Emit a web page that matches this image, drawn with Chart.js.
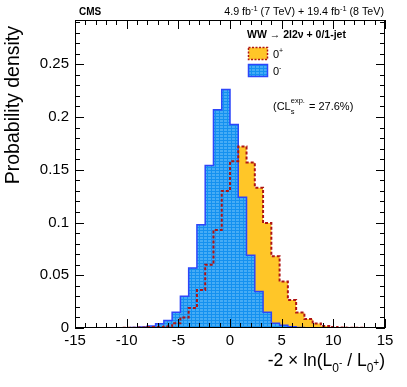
<!DOCTYPE html>
<html>
<head>
<meta charset="utf-8">
<script src="https://cdn.jsdelivr.net/npm/chart.js@4.4.1/dist/chart.umd.min.js"></script>
<style>
  html, body { margin: 0; padding: 0; background: #fff; }
  #c { display: block; }
</style>
</head>
<body>
<canvas id="c" width="407" height="387"></canvas>
<script>
// bin edges of -2 ln(L0-/L0+), bin width 0.8
const binEdges = [-16, -15.2, -14.4, -13.6, -12.8, -12, -11.2, -10.4, -9.6, -8.8,
                  -8, -7.2, -6.4, -5.6, -4.8, -4, -3.2, -2.4, -1.6, -0.8,
                  0, 0.8, 1.6, 2.4, 3.2, 4, 4.8, 5.6, 6.4, 7.2,
                  8, 8.8, 9.6, 10.4, 11.2, 12, 12.8, 13.6, 14.4, 15.2, 16];

// 0+ hypothesis (scalar), probability density per bin
const scalarDensity = [0, 0, 0, 0, 0, 0, 0, 0.0002, 0.0003, 0.0005,
                       0.001, 0.001, 0.0015, 0.0045, 0.010, 0.019, 0.036, 0.060, 0.093, 0.130,
                       0.158, 0.172, 0.157, 0.133, 0.0995, 0.068, 0.044, 0.0266, 0.0146, 0.0085,
                       0.0043, 0.002, 0.001, 0.0005, 0.0003, 0.0002, 0.0001, 0, 0, 0];

// 0- hypothesis (pseudoscalar)
const pseudoDensity = [0, 0, 0, 0, 0, 0, 0, 0.0002, 0.0004, 0.001,
                       0.002, 0.004, 0.007, 0.015, 0.030, 0.057, 0.098, 0.154, 0.207, 0.226,
                       0.193, 0.124, 0.069, 0.0345, 0.015, 0.0045, 0.0025, 0.0012, 0.0005, 0.0002,
                       0, 0, 0, 0, 0, 0, 0, 0, 0, 0];

const FONT = '"Liberation Sans", Arial, Helvetica, sans-serif';
const ORANGE = 'rgb(255,198,40)';
const RED = 'rgb(175,20,20)';
const BLUE_LINE = 'rgb(45,70,250)';

// step points: one per lower edge, plus the last right edge
function steps(vals) {
  return binEdges.map((e, i) => ({ x: e, y: i < vals.length ? vals[i] : vals[vals.length - 1] }));
}

// little grid pattern like the ROOT fill style
function bluePattern() {
  const p = document.createElement('canvas');
  p.width = 4; p.height = 3;
  const g = p.getContext('2d');
  g.fillStyle = 'rgb(20,145,240)';
  g.fillRect(0, 0, 4, 3);
  g.fillStyle = 'rgb(70,172,245)';
  g.fillRect(0, 0, 3, 2);
  return g.createPattern(p, 'repeat');
}

function rich(ctx, parts, x, y, align) {
  let w = 0;
  parts.forEach(p => { ctx.font = p[1]; w += ctx.measureText(p[0]).width; });
  let cx = align === 'right' ? x - w : x;
  parts.forEach(p => {
    ctx.font = p[1];
    ctx.fillText(p[0], cx, y + (p[2] || 0));
    cx += ctx.measureText(p[0]).width;
  });
}

const frame = {
  id: 'frame',
  afterDatasetsDraw(chart) {
    const { ctx, chartArea: a, scales: { x, y } } = chart;
    ctx.save();
    ctx.strokeStyle = '#000';
    ctx.lineWidth = 1;
    ctx.beginPath();
    for (let v = -15; v <= 15; v++) {
      const px = Math.round(x.getPixelForValue(v)) + 0.5;
      const len = v % 5 === 0 ? 9 : 5;
      ctx.moveTo(px, a.bottom); ctx.lineTo(px, a.bottom - len);
      ctx.moveTo(px, a.top); ctx.lineTo(px, a.top + len);
    }
    for (let k = 0; k <= 29; k++) {
      const py = Math.round(y.getPixelForValue(k * 0.01)) + 0.5;
      const len = k % 5 === 0 ? 9 : 5;
      ctx.moveTo(a.left, py); ctx.lineTo(a.left + len, py);
      ctx.moveTo(a.right, py); ctx.lineTo(a.right - len, py);
    }
    ctx.stroke();
    ctx.strokeRect(Math.round(a.left) + 0.5, Math.round(a.top) + 0.5,
                   Math.round(a.width) - 1, Math.round(a.height) - 1);
    ctx.restore();
  },
  afterDraw(chart) {
    const ctx = chart.ctx;
    ctx.save();
    ctx.fillStyle = '#000';
    ctx.textBaseline = 'alphabetic';

    // header
    ctx.font = 'bold 10px ' + FONT;
    ctx.fillText('CMS', 79, 15);
    const n = '10.7px ' + FONT, s = '7.5px ' + FONT;
    rich(ctx, [['4.9 fb', n], ['-1', s, -4], [' (7 TeV) + 19.4 fb', n], ['-1', s, -4], [' (8 TeV)', n]], 384, 15, 'right');

    // y title
    ctx.save();
    ctx.translate(14, 26);
    ctx.rotate(-Math.PI / 2);
    ctx.font = '19.5px ' + FONT;
    ctx.textAlign = 'right';
    ctx.textBaseline = 'middle';
    ctx.fillText('Probability density', 0, 0);
    ctx.restore();

    // x title
    const big = '17.5px ' + FONT, sub = '12px ' + FONT, ss = '10px ' + FONT;
    rich(ctx, [['-2 \u00d7 ln(L', big], ['0', sub, 6], ['-', ss, 0], [' / L', big], ['0', sub, 6], ['+', ss, 0], [')', big]], 385, 366, 'right');

    // legend
    ctx.font = 'bold 10.5px ' + FONT;
    ctx.fillText('WW \u2192 2l2\u03bd + 0/1-jet', 247, 38);
    ctx.fillStyle = ORANGE;
    ctx.fillRect(248.5, 47.5, 19, 12);
    ctx.strokeStyle = RED;
    ctx.lineWidth = 1.5;
    ctx.setLineDash([2, 1.5]);
    ctx.strokeRect(248.5, 47.5, 19, 12);
    ctx.setLineDash([]);
    ctx.fillStyle = bluePattern();
    ctx.fillRect(248.5, 64.5, 19, 12);
    ctx.strokeStyle = BLUE_LINE;
    ctx.strokeRect(248.5, 64.5, 19, 12);
    ctx.fillStyle = '#000';
    rich(ctx, [['0', '11px ' + FONT], ['+', '7px ' + FONT, -5]], 273, 58);
    rich(ctx, [['0', '11px ' + FONT], ['-', '7px ' + FONT, -5]], 273, 75);

    // CLs annotation
    const f = '11px ' + FONT, fs = '7.5px ' + FONT;
    let cx = 273;
    ctx.font = f; ctx.fillText('(CL', cx, 110); cx += ctx.measureText('(CL').width;
    ctx.font = fs; ctx.fillText('s', cx, 114); ctx.fillText('exp.', cx, 103);
    cx += ctx.measureText('exp.').width + 1;
    ctx.font = f; ctx.fillText(' = 27.6%)', cx, 110);
    ctx.restore();
  }
};

new Chart(document.getElementById('c'), {
  type: 'line',
  data: {
    datasets: [{
      label: '0+',
      data: steps(scalarDensity),
      stepped: 'before',
      fill: 'origin',
      backgroundColor: ORANGE,
      borderWidth: 0,
      pointRadius: 0,
      order: 3
    }, {
      label: '0-',
      data: steps(pseudoDensity),
      stepped: 'before',
      fill: 'origin',
      backgroundColor: bluePattern(),
      borderColor: BLUE_LINE,
      borderWidth: 1.5,
      pointRadius: 0,
      order: 2
    }, {
      label: '0+ outline',
      data: steps(scalarDensity),
      stepped: 'before',
      fill: false,
      borderColor: RED,
      borderWidth: 2,
      borderDash: [3, 2],
      pointRadius: 0,
      order: 1
    }]
  },
  options: {
    responsive: false,
    animation: false,
    devicePixelRatio: 1,
    layout: { padding: { top: 20, right: 22, bottom: 0, left: 0 } },
    plugins: { legend: { display: false }, tooltip: { enabled: false } },
    scales: {
      x: {
        type: 'linear',
        min: -15,
        max: 15,
        grid: { display: false, drawTicks: false },
        border: { display: false },
        ticks: {
          stepSize: 5,
          autoSkip: false,
          maxRotation: 0,
          padding: 4,
          color: '#000',
          font: { family: FONT, size: 15 }
        },
        afterFit: s => { s.height = 59; }
      },
      y: {
        min: 0,
        max: 0.292,
        grid: { display: false, drawTicks: false },
        border: { display: false },
        ticks: {
          stepSize: 0.05,
          includeBounds: false,
          padding: 6,
          color: '#000',
          font: { family: FONT, size: 15 },
          callback: v => String(+v.toFixed(3))
        },
        afterFit: s => { s.width = 75; }
      }
    }
  },
  plugins: [frame]
});
</script>
</body>
</html>
